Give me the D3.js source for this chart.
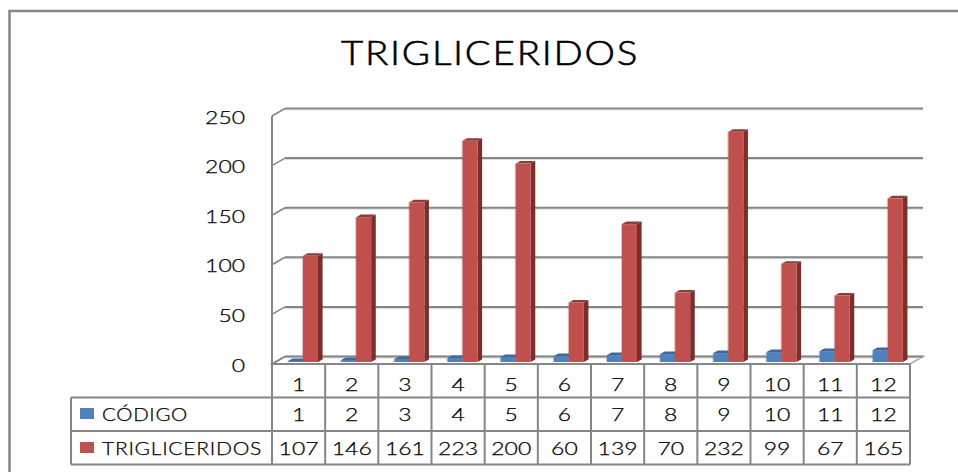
<!DOCTYPE html>
<html>
<head>
<meta charset="utf-8">
<script src="https://cdn.jsdelivr.net/npm/d3@7"></script>
<style>
  html, body { margin: 0; padding: 0; background: #fff; }
  text { font-family: Lato, "Open Sans", sans-serif; font-weight: 300; fill: #000; stroke: #000; stroke-width: 0.25px; }
</style>
</head>
<body>
<div id="chart"></div>
<script>
const categories = ["1", "2", "3", "4", "5", "6", "7", "8", "9", "10", "11", "12"];
const codigo = [1, 2, 3, 4, 5, 6, 7, 8, 9, 10, 11, 12];
const trigliceridos = [107, 146, 161, 223, 200, 60, 139, 70, 232, 99, 67, 165];
const yTicks = [0, 50, 100, 150, 200, 250];
const seriesNames = ["CÓDIGO", "TRIGLICERIDOS"];
const seriesColors = ["#4F81BD", "#C0504D"];
const capColors = ["#3F6797", "#8E3A38"];
const sideColors = ["#32527A", "#7A2F2D"];

const width = 958, height = 472;
const gray = "#868686";

//3d offset of the back wall compared to the front of the floor
const depth = { x: 13, y: -7.5 };
const barDepth = { x: 4.6, y: -2.6 };

const x = d3.scaleBand().domain(categories).range([272, 910]);
const inner = d3.scaleBand().domain(seriesNames).range([16, 46]);
const yFront = d3.scaleLinear().domain([0, 250]).range([364, 116]);
const yBar = d3.scaleLinear().domain([0, 250]).range([362, 114]);

const svg = d3.select("#chart").append("svg")
  .attr("width", width)
  .attr("height", height)
  .style("display", "block");

//outer frame, there is no line on the right or the bottom
svg.append("path")
  .attr("d", `M9.5,${height} V11 H${width}`)
  .attr("fill", "none")
  .attr("stroke", gray)
  .attr("stroke-width", 2.5);

svg.append("text")
  .attr("x", 341)
  .attr("y", 64.5)
  .attr("font-size", 33)
  .attr("letter-spacing", 1.5)
  .attr("textLength", 298)
  .attr("lengthAdjust", "spacingAndGlyphs")
  .style("stroke-width", "0.6px")
  .text("TRIGLICERIDOS");

const [left, right] = x.range();

//floor
svg.append("polygon")
  .attr("points", [
    [left, yFront(0)],
    [left + depth.x, yFront(0) + depth.y],
    [right + depth.x, yFront(0) + depth.y],
    [right, yFront(0)]
  ].join(" "))
  .attr("fill", "#fff")
  .attr("stroke", "#a8a8a8")
  .attr("stroke-width", 1.5);

//gridlines on the back wall and the small diagonal on the side wall
const grid = svg.append("g").selectAll("g").data(yTicks).enter().append("g");
grid.append("line")
  .attr("x1", left + depth.x)
  .attr("x2", right + depth.x)
  .attr("y1", (d) => yFront(d) + depth.y + 1.5)
  .attr("y2", (d) => yFront(d) + depth.y + 1.5)
  .attr("stroke", "#d9d9d9")
  .attr("stroke-width", 1);
grid.append("line")
  .attr("x1", left + depth.x)
  .attr("x2", right + depth.x)
  .attr("y1", (d) => yFront(d) + depth.y)
  .attr("y2", (d) => yFront(d) + depth.y)
  .attr("stroke", gray)
  .attr("stroke-width", 2);
grid.append("line")
  .attr("x1", left)
  .attr("x2", left + depth.x)
  .attr("y1", (d) => yFront(d))
  .attr("y2", (d) => yFront(d) + depth.y)
  .attr("stroke", gray)
  .attr("stroke-width", 1.6);

//left wall
svg.append("line")
  .attr("x1", left)
  .attr("x2", left)
  .attr("y1", yFront(250))
  .attr("y2", yFront(0))
  .attr("stroke", gray)
  .attr("stroke-width", 2);

//y axis, only the labels are kept
const yAxis = svg.append("g")
  .attr("transform", "translate(245,1.5)")
  .call(d3.axisLeft(yFront).tickValues(yTicks).tickSize(0).tickPadding(0));
yAxis.select(".domain").remove();
yAxis.selectAll("text")
  .style("font-family", "Lato, sans-serif")
  .attr("font-size", 17.5)
  .attr("textLength", (d) => String(d).length * 13.3)
  .attr("lengthAdjust", "spacingAndGlyphs");

//one cuboid for each value, blue first so red covers its side
function drawBars(values, s) {
  const name = seriesNames[s];
  const bars = svg.append("g").selectAll("g").data(values).enter().append("g")
    .attr("transform", (d, i) => `translate(${x(categories[i]) + inner(name)},0)`);
  const w = inner.bandwidth();
  const base = yBar(0);

  bars.append("rect")
    .attr("x", -1)
    .attr("width", 1)
    .attr("y", (d) => yBar(d))
    .attr("height", (d) => base - yBar(d))
    .attr("fill", seriesColors[s])
    .attr("opacity", 0.35);
  bars.append("polygon")
    .attr("points", (d) => [
      [w, yBar(d)],
      [w + barDepth.x, yBar(d) + barDepth.y],
      [w + barDepth.x, base + barDepth.y],
      [w, base]
    ].join(" "))
    .attr("fill", sideColors[s]);
  bars.append("polygon")
    .attr("points", (d) => [
      [0, yBar(d)],
      [barDepth.x, yBar(d) + barDepth.y],
      [w + barDepth.x, yBar(d) + barDepth.y],
      [w, yBar(d)]
    ].join(" "))
    .attr("fill", capColors[s]);
  bars.append("rect")
    .attr("width", w)
    .attr("y", (d) => yBar(d))
    .attr("height", (d) => base - yBar(d))
    .attr("fill", seriesColors[s]);
}
drawBars(codigo, 0);
drawBars(trigliceridos, 1);

//data table under the chart
const tableLeft = 71;
const rowLines = [364, 397.5, 431, 464.5];
const table = svg.append("g")
  .attr("stroke", gray)
  .attr("stroke-width", 2)
  .attr("fill", "none");

x.domain().concat("end").forEach((c) => {
  const px = c === "end" ? right : x(c);
  table.append("line").attr("x1", px).attr("x2", px)
    .attr("y1", rowLines[0]).attr("y2", rowLines[3]);
});
rowLines.forEach((ry, i) => {
  table.append("line")
    .attr("x1", i === 0 ? left : tableLeft)
    .attr("x2", right)
    .attr("y1", ry)
    .attr("y2", ry);
});
table.append("line").attr("x1", tableLeft).attr("x2", tableLeft)
  .attr("y1", rowLines[1]).attr("y2", rowLines[3]);

const rows = [categories, codigo, trigliceridos];
const baselines = [390.5, 420.5, 454.5];
rows.forEach((row, r) => {
  svg.append("g").selectAll("text").data(row).enter().append("text")
    .attr("x", (d, i) => x(categories[i]) + x.bandwidth() / 2)
    .attr("y", baselines[r])
    .attr("text-anchor", "middle")
    .attr("font-size", 17.5)
    .attr("textLength", (d) => String(d).length * 13.3)
    .attr("lengthAdjust", "spacingAndGlyphs")
    .text((d) => d);
});

//legend keys and names in the table
const legendWidths = [86, 160];
seriesNames.forEach((name, s) => {
  svg.append("rect")
    .attr("x", 80)
    .attr("y", baselines[s + 1] - 12.5)
    .attr("width", 14)
    .attr("height", 11)
    .attr("fill", seriesColors[s]);
  svg.append("text")
    .attr("x", 102)
    .attr("y", baselines[s + 1])
    .attr("font-size", 17.5)
    .attr("letter-spacing", 0.6)
    .attr("textLength", legendWidths[s])
    .attr("lengthAdjust", "spacingAndGlyphs")
    .text(name);
});
</script>
</body>
</html>
